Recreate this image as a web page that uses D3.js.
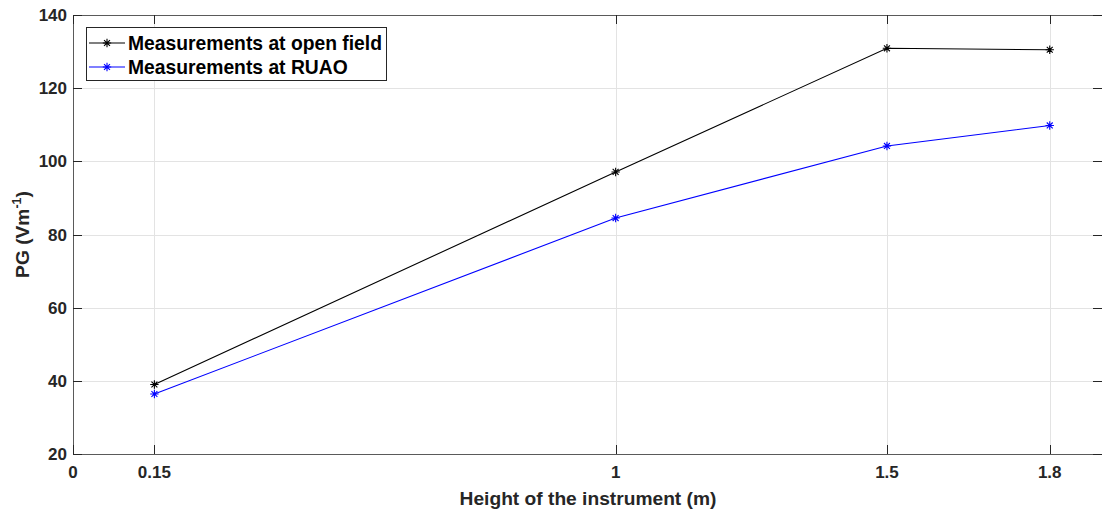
<!DOCTYPE html>
<html>
<head>
<meta charset="utf-8">
<script src="https://cdn.jsdelivr.net/npm/d3@7"></script>
<style>
  html, body { margin: 0; padding: 0; background: #fff; }
  svg { display: block; font-family: "Liberation Sans", Arial, Helvetica, sans-serif; font-weight: bold; }
</style>
</head>
<body>
<svg id="chart" width="1102" height="511"></svg>
<script>
// Instrument heights (m) and potential gradient readings (V/m)
const heights = [0.15, 1, 1.5, 1.8];
const openField = [39.0, 97.1, 130.9, 130.5];
const ruao = [36.4, 84.5, 104.2, 109.8];
const xTicks = [0, 0.15, 1, 1.5, 1.8];
const xTickLabels = ["0", "0.15", "1", "1.5", "1.8"];
const yTicks = [20, 40, 60, 80, 100, 120, 140];
const seriesNames = ["Measurements at open field", "Measurements at RUAO"];
const seriesColors = ["#000000", "#0000ff"];

const svg = d3.select("#chart");
const box = { left: 73, top: 15, right: 1104, bottom: 454 };
const axisColor = "#262626";
const tickLen = 9;

const x = d3.scaleLinear().domain([0, 1.9]).range([box.left, box.right]);
const y = d3.scaleLinear().domain([20, 140]).range([box.bottom, box.top]);

// grid
const grid = svg.append("g").attr("stroke", "#e3e3e3").attr("stroke-width", 1);
grid.selectAll("line.gx").data(xTicks.filter(d => d > 0)).join("line")
  .attr("x1", d => Math.round(x(d)) + 0.5).attr("x2", d => Math.round(x(d)) + 0.5)
  .attr("y1", box.top).attr("y2", box.bottom);
grid.selectAll("line.gy").data(yTicks.filter(d => d > 20 && d < 140)).join("line")
  .attr("y1", d => Math.round(y(d)) + 0.5).attr("y2", d => Math.round(y(d)) + 0.5)
  .attr("x1", box.left).attr("x2", box.right);

// axes frame
const frame = svg.append("g").attr("stroke", axisColor).attr("stroke-width", 1).attr("fill", "none");
frame.append("path")
  .attr("d", `M${box.left + 0.5},${box.top + 0.5}H${box.right}M${box.left + 0.5},${box.top}V${box.bottom + 0.5}H${box.right}`)
  .attr("stroke", "#5a5a5a");

// inward ticks on all four sides
xTicks.forEach(t => {
  const px = Math.round(x(t)) + 0.5;
  frame.append("line").attr("x1", px).attr("x2", px).attr("y1", box.bottom).attr("y2", box.bottom - tickLen);
  frame.append("line").attr("x1", px).attr("x2", px).attr("y1", box.top).attr("y2", box.top + tickLen);
});
yTicks.forEach(t => {
  const py = Math.round(y(t)) + 0.5;
  frame.append("line").attr("y1", py).attr("y2", py).attr("x1", box.left).attr("x2", box.left + tickLen);
  frame.append("line").attr("y1", py).attr("y2", py).attr("x1", box.right - 2).attr("x2", box.right - 2 - tickLen);
});

// tick labels
const tickFont = 17;
svg.append("g").selectAll("text").data(xTicks).join("text")
  .attr("x", d => x(d)).attr("y", 478)
  .attr("text-anchor", "middle").attr("font-size", tickFont).attr("fill", axisColor)
  .text((d, i) => xTickLabels[i]);
svg.append("g").selectAll("text").data(yTicks).join("text")
  .attr("x", 67).attr("y", d => y(d) + 6)
  .attr("text-anchor", "end").attr("font-size", tickFont).attr("fill", axisColor)
  .text(d => d);

// axis titles
svg.append("text")
  .attr("x", 588).attr("y", 505)
  .attr("text-anchor", "middle").attr("font-size", 19.2).attr("fill", axisColor)
  .text("Height of the instrument (m)");
const yl = svg.append("text")
  .attr("transform", `translate(29,${(box.top + box.bottom) / 2}) rotate(-90)`)
  .attr("text-anchor", "middle").attr("font-size", 19.2).attr("fill", axisColor);
yl.append("tspan").text("PG (Vm");
yl.append("tspan").attr("font-size", 12.5).attr("dy", -8).text("-1");
yl.append("tspan").attr("dy", 8).text(")");

// asterisk marker
const r = 4.2;
const d45 = r * Math.SQRT1_2;
const star = `M${-r},0H${r}M0,${-r}V${r}M${-d45},${-d45}L${d45},${d45}M${-d45},${d45}L${d45},${-d45}`;

const line = d3.line().x(d => x(d[0])).y(d => y(d[1]));
[openField, ruao].forEach((vals, i) => {
  const pts = heights.map((h, j) => [h, vals[j]]);
  const g = svg.append("g");
  g.append("path").attr("d", line(pts)).attr("fill", "none")
    .attr("stroke", seriesColors[i]).attr("stroke-width", 1.1);
  g.selectAll("path.m").data(pts).join("path")
    .attr("transform", d => `translate(${x(d[0])},${y(d[1])})`)
    .attr("d", star).attr("stroke", seriesColors[i]).attr("stroke-width", 1.1).attr("fill", "none");
});

// legend
const lg = svg.append("g");
lg.append("rect").attr("x", 86.5).attr("y", 27.5).attr("width", 300).attr("height", 53)
  .attr("fill", "#fff").attr("stroke", axisColor).attr("stroke-width", 1);
seriesNames.forEach((name, i) => {
  const cy = 43 + i * 24;
  lg.append("line").attr("x1", 89).attr("x2", 125).attr("y1", cy).attr("y2", cy)
    .attr("stroke", seriesColors[i]).attr("stroke-width", 1.1);
  lg.append("path").attr("transform", `translate(107,${cy})`).attr("d", star)
    .attr("stroke", seriesColors[i]).attr("stroke-width", 1.1).attr("fill", "none");
  lg.append("text").attr("x", 128).attr("y", cy + 7).attr("font-size", 19.3).attr("fill", "#000")
    .text(name);
});
</script>
</body>
</html>
